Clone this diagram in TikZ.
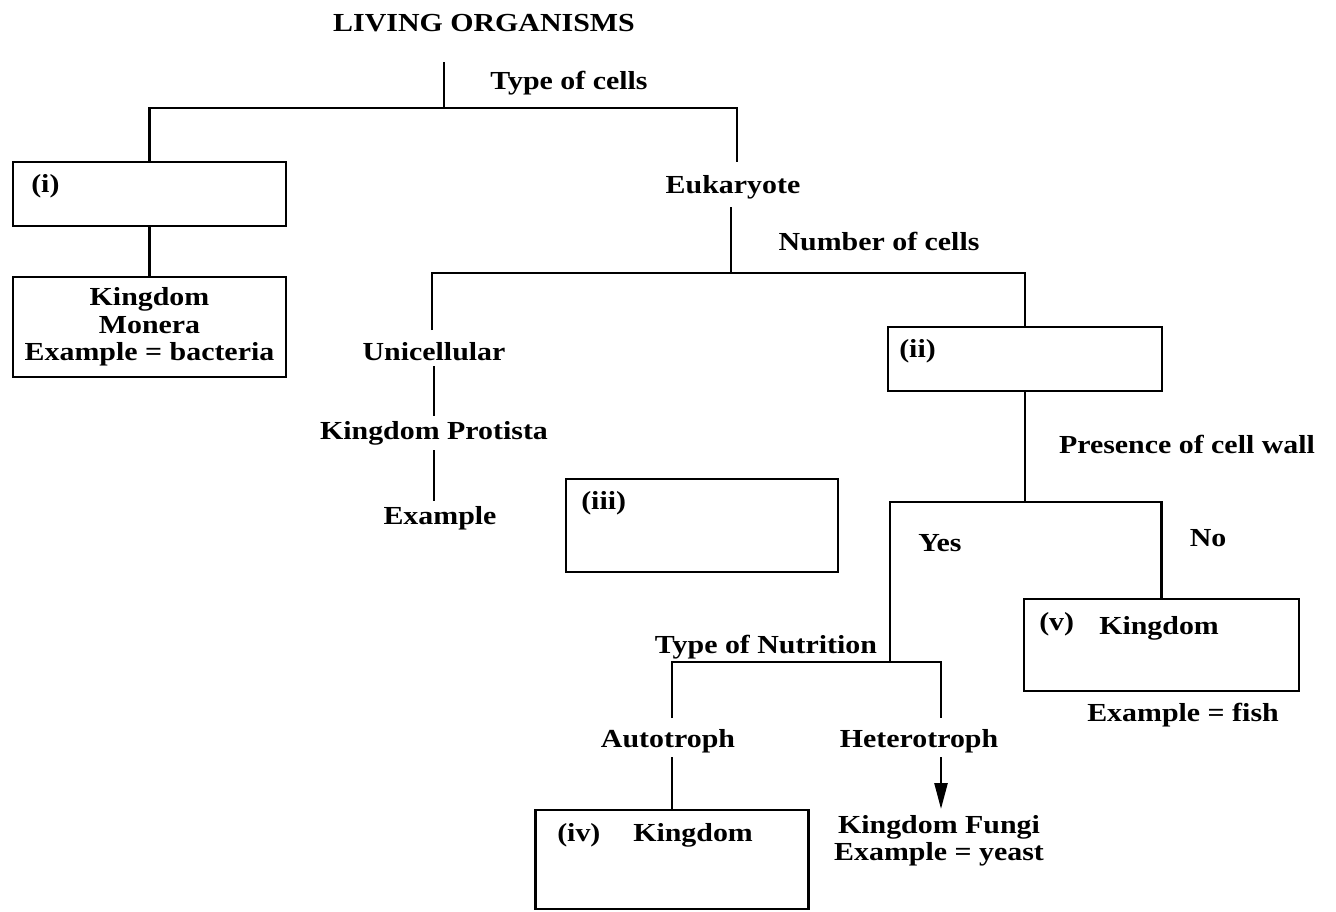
\documentclass[tikz,border=0pt]{standalone}
\usepackage{fontspec}
\setmainfont[FakeStretch=1.15]{Liberation Serif}
\usetikzlibrary{arrows.meta}
\begin{document}
\begin{tikzpicture}[x=0.5pt,y=-0.5pt, line width=1.25pt,
  lbl/.style={font=\fontsize{13}{13.75}\selectfont\bfseries, inner sep=2pt, yshift=-1.5pt},
  box/.style={draw, rectangle, inner sep=0pt},
  tip/.style={-{Triangle[length=13pt,width=6.5pt]}}]
\useasboundingbox (0,0) rectangle (1336,911);

% boxes
\node[box, minimum width=136.5pt, minimum height=32pt] (boxi) at (149.5,194) {};
\node[box, minimum width=136.5pt, minimum height=50pt, align=center, font=\fontsize{13}{13.75}\selectfont\bfseries] (monera) at (149.5,327) {Kingdom\\Monera\\Example = bacteria};
\node[box, minimum width=137pt, minimum height=32pt] (boxii) at (1025,359) {};
\node[box, minimum width=136pt, minimum height=46.5pt] (boxiii) at (702,525.5) {};
\node[box, minimum width=136.5pt, minimum height=49.5pt] (boxiv) at (672,859.5) {};
\node[box, minimum width=137.5pt, minimum height=46pt] (boxv) at (1161.5,645) {};

% labels inside boxes
\node[lbl, anchor=west] (li) at (26,183) {(i)};
\node[lbl, anchor=west] (lii) at (894,348) {(ii)};
\node[lbl, anchor=west] (liii) at (576,500) {(iii)};
\node[lbl, anchor=west] (liv) at (552,832) {(iv)};
\node[lbl, anchor=west] (kiv) at (628,832) {Kingdom};
\node[lbl, anchor=west] (lv) at (1034,621) {(v)};
\node[lbl, anchor=west] (kv) at (1094,625) {Kingdom};

% text nodes
\node[lbl] (title) at (484,20) {LIVING ORGANISMS};
\node[lbl] (tcells) at (569,80) {Type of cells};
\node[lbl] (euk) at (733,184) {Eukaryote};
\node[lbl] (ncells) at (879,238) {Number of cells};
\node[lbl] (uni) at (434,349) {Unicellular};
\node[lbl] (prot) at (434,430) {Kingdom Protista};
\node[lbl] (ex) at (440,515) {Example};
\node[lbl] (wall) at (1187,441) {Presence of cell wall};
\node[lbl] (yes) at (940,540) {Yes};
\node[lbl] (no) at (1208,535) {No};
\node[lbl] (nutr) at (766,644) {Type of Nutrition};
\node[lbl] (fish) at (1183,712) {Example = fish};
\node[lbl] (auto) at (668,738) {Autotroph};
\node[lbl] (hetero) at (919,738) {Heterotroph};
\node[lbl, align=center] (fungi) at (939,838) {Kingdom Fungi\\Example = yeast};

% junction coordinates
\coordinate (t1) at (444,62);
\coordinate (j1) at (444,108);
\coordinate (e1) at (737,162);
\coordinate (e2) at (731,207);
\coordinate (j2) at (731,273);
\coordinate (u1) at (432,330);
\coordinate (j3) at (1025,502);
\coordinate (j4) at (890,662);
\coordinate (a1) at (672,718);
\coordinate (h1) at (941,718);
\coordinate (a2) at (672,757);
\coordinate (h2) at (941,757);
\coordinate (h3) at (941,809);

% connectors
\draw (t1) -- (j1);
\draw (boxi.north) |- (j1) -| (e1);
\draw (boxi.south) -- (monera.north);
\draw (e2) -- (j2);
\draw (u1) |- (j2) -| (boxii.north);
\draw (uni.south) -- (uni.south |- prot.north);
\draw (prot.south) -- (prot.south |- ex.north);
\draw (boxii.south) -- (j3);
\draw (j4) |- (j3) -| (boxv.north);
\draw (a1) |- (j4) -| (h1);
\draw (a2) -- (boxiv.north);
\draw[tip] (h2) -- (h3);
\end{tikzpicture}
\end{document}
